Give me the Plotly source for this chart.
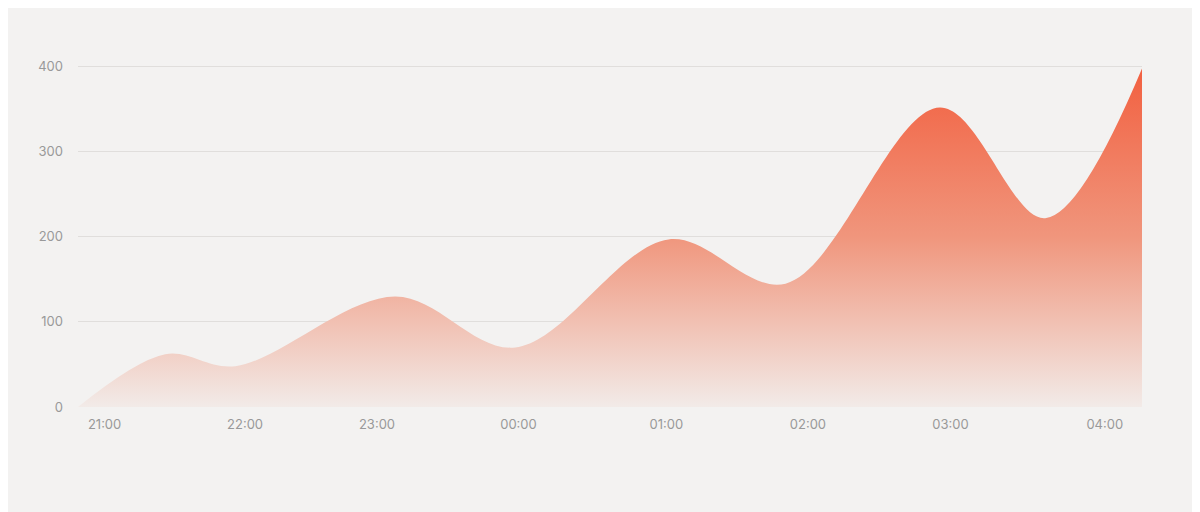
import plotly.graph_objects as go

# データ
x_pos = [0, 8.2, 14.8, 29.8, 41.1, 55.5, 66.5, 81, 90.9, 100]
values = [0, 62, 48, 130, 70, 197, 145, 352, 222, 398]
tick_pos = [2.5, 15.7, 28.1, 41.4, 55.3, 68.6, 82, 96.5]
tick_labels = ['21:00', '22:00', '23:00', '00:00', '01:00', '02:00', '03:00', '04:00']
y_ticks = [0, 100, 200, 300, 400]

fig = go.Figure()
fig.add_trace(go.Scatter(
    x=x_pos, y=values, mode='lines', line=dict(width=0, shape='spline', smoothing=1.0),
    fill='tozeroy',
    fillgradient=dict(type='vertical', colorscale=[[0, 'rgba(242,235,232,1)'], [0.5, 'rgba(240,150,125,1)'], [1, 'rgba(242,96,64,1)']]),
    hoverinfo='skip', showlegend=False))

fig.update_layout(
    width=1200, height=512,
    paper_bgcolor='#f3f2f1', plot_bgcolor='#f3f2f1',
    margin=dict(l=70, r=66, t=57, b=113),
    font=dict(family='Inter', size=13, color='#999999'),
    xaxis=dict(range=[0, 100], tickvals=tick_pos, ticktext=tick_labels,
               showgrid=False, zeroline=False, showline=False, ticks='', ticklabelstandoff=8),
    yaxis=dict(range=[0, 402], tickvals=y_ticks, gridcolor='#e0dedc',
               zeroline=False, ticks='', ticklabelstandoff=14),
)

fig.write_html('out.html')
